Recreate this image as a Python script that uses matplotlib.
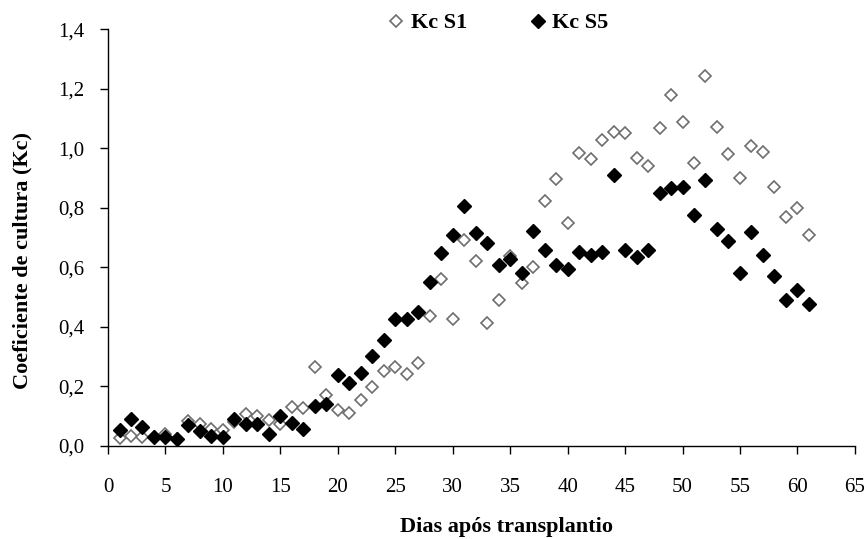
import matplotlib.pyplot as plt
from matplotlib.ticker import FuncFormatter

plt.rcParams['font.family'] = ['Liberation Serif', 'DejaVu Serif']

days = list(range(1, 62))

kc_s1 = [0.027, 0.033, 0.029, 0.03, 0.042, 0.025, 0.084, 0.073, 0.058, 0.053,
         0.08, 0.107, 0.10, 0.089, 0.073, 0.131, 0.127, 0.264, 0.173, 0.12,
         0.111, 0.153, 0.198, 0.251, 0.264, 0.242, 0.278, 0.437, 0.562, 0.426,
         0.692, 0.62, 0.414, 0.49, 0.637, 0.546, 0.602, 0.823, 0.898, 0.748,
         0.984, 0.964, 1.026, 1.053, 1.05, 0.967, 0.94, 1.067, 1.179, 1.087,
         0.95, 1.244, 1.07, 0.979, 0.90, 1.006, 0.989, 0.87, 0.77, 0.798,
         0.709]

kc_s5 = [0.053, 0.091, 0.064, 0.029, 0.03, 0.024, 0.069, 0.051, 0.033, 0.03,
         0.091, 0.073, 0.073, 0.04, 0.102, 0.078, 0.056, 0.134, 0.14, 0.237,
         0.21, 0.246, 0.303, 0.356, 0.426, 0.426, 0.451, 0.551, 0.648, 0.707,
         0.807, 0.714, 0.681, 0.607, 0.629, 0.58, 0.722, 0.657, 0.607, 0.596,
         0.65, 0.64, 0.653, 0.909, 0.657, 0.634, 0.657, 0.85, 0.867, 0.87,
         0.776, 0.892, 0.728, 0.687, 0.581, 0.72, 0.64, 0.57, 0.492, 0.523,
         0.476]

fig = plt.figure(figsize=(8.67, 5.39), dpi=100)
ax = fig.add_axes([0.1246, 0.1725, 0.8614, 0.7735])

ax.plot(days, kc_s1, linestyle='none', marker='D', markersize=6.5,
        markerfacecolor='white', markeredgecolor='#6e6e6e', markeredgewidth=1.2,
        label='Kc S1')
ax.plot(days, kc_s5, linestyle='none', marker='D', markersize=7,
        markerfacecolor='black', markeredgecolor='black', label='Kc S5')

ax.set_xlim(0, 65)
ax.set_ylim(0, 1.4)
ax.set_xticks(range(0, 66, 5))
ax.set_yticks([0, 0.2, 0.4, 0.6, 0.8, 1.0, 1.2, 1.4])
ax.yaxis.set_major_formatter(FuncFormatter(lambda v, p: f"{v:.1f}".replace('.', ',')))

for s in ['top', 'right']:
    ax.spines[s].set_visible(False)
for s in ['left', 'bottom']:
    ax.spines[s].set_linewidth(1.0)

ax.tick_params(direction='out', length=6, width=1, labelsize=15)
ax.tick_params(axis='y', pad=11)
ax.tick_params(axis='x', pad=17)

ax.set_xlabel('Dias após transplantio', fontsize=16, fontweight='bold', va='center')
ax.xaxis.set_label_coords(0.534, -0.194)
ax.set_ylabel('Coeficiente de cultura (Kc)', fontsize=16, fontweight='bold', va='center')
ax.yaxis.set_label_coords(-0.115, 0.446)

ax.legend(loc='center', bbox_to_anchor=(0.522, 1.0144), ncol=2, frameon=False,
          prop={'size': 16, 'weight': 'bold'}, handletextpad=0.25,
          columnspacing=2.8, handlelength=0.8, borderaxespad=0)

fig.savefig('out.png', dpi=100)
